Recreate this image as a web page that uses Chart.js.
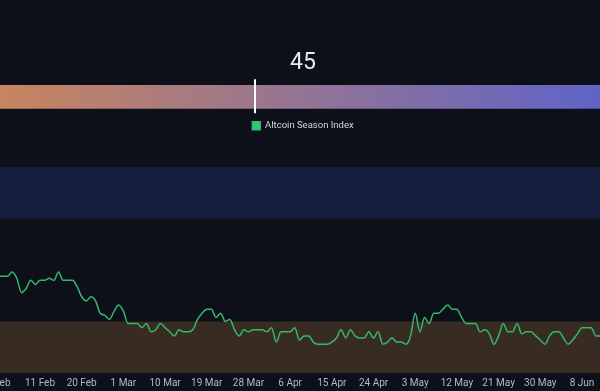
<!DOCTYPE html>
<html>
<head>
<meta charset="utf-8">
<script src="https://cdn.jsdelivr.net/npm/chart.js@4.4.1/dist/chart.umd.min.js"></script>
<style>
  html, body { margin: 0; padding: 0; background: #0d1019; overflow: hidden; }
  body { width: 600px; height: 391px; position: relative; }
  /* the chart is wider than the window, like the cropped original */
  .wrap { position: absolute; left: -177px; top: 0; width: 960px; }
  canvas { display: block; }
</style>
</head>
<body>
<div class="wrap">
  <canvas id="gauge" width="960" height="115"></canvas>
  <canvas id="chart" width="960" height="276"></canvas>
</div>
<script>
const indexValue = 45;
const seriesName = "Altcoin Season Index";
const firstDate = [2025, 1, 2]; // 2 Feb 2025 = day 0
const tickStep = 9; // days between x labels
const months = ["Jan", "Feb", "Mar", "Apr", "May", "Jun", "Jul", "Aug", "Sep", "Oct", "Nov", "Dec"];

// one value per day from 2 Feb
const values = [
  47, 47, 47, 49, 46, 39, 41, 45, 43, 45,
  45, 46, 45, 49, 45, 45, 45, 42, 37, 35,
  37, 35, 29, 28, 26, 30, 33, 30, 24, 24,
  24, 22, 24, 20, 21, 24, 22, 20, 18, 21,
  20, 20, 21, 26, 29, 31, 31, 27, 29, 25,
  26, 21, 18, 21, 20, 21, 21, 21, 20, 22,
  15, 20, 20, 20, 22, 16, 18, 18, 15, 14,
  14, 14, 15, 17, 21, 17, 21, 18, 17, 17,
  20, 17, 20, 14, 15, 17, 15, 15, 14, 18,
  29, 20, 27, 24, 29, 29, 31, 33, 31, 31,
  27, 24, 24, 24, 20, 21, 19, 14, 18, 24,
  20, 20, 24, 19, 20, 20, 18, 16, 14, 18,
  20, 20, 17, 14, 16, 19, 22, 22, 22, 18,
  18, 18
];

const zoneFrom = [0, 75];
const zoneTo = [25, 100];
const zoneColors = ["#382b22", "#161e3e"];

const font = "Roboto, sans-serif";

function dayLabel(v) {
  if (v < 0 || v >= values.length) return "";
  const d = new Date(firstDate[0], firstDate[1], firstDate[2] + v);
  return d.getDate() + " " + months[d.getMonth()];
}

// gauge
const marker = {
  id: "marker",
  afterDatasetsDraw(chart) {
    const ctx = chart.ctx;
    const bar = chart.getDatasetMeta(0).data[0];
    const x = Math.round(chart.scales.x.getPixelForValue(indexValue));
    ctx.save();
    ctx.strokeStyle = "#ffffff";
    ctx.lineWidth = 2;
    ctx.beginPath();
    ctx.moveTo(x, bar.y - bar.height / 2 - 6);
    ctx.lineTo(x, bar.y + bar.height / 2 + 5);
    ctx.stroke();
    ctx.restore();
  }
};

new Chart(document.getElementById("gauge"), {
  type: "bar",
  data: {
    labels: [""],
    datasets: [{
      data: [[0, 100]],
      borderWidth: 0,
      barThickness: 23,
      backgroundColor: function (c) {
        const area = c.chart.chartArea;
        if (!area) return "#999";
        const g = c.chart.ctx.createLinearGradient(area.left, 0, area.right, 0);
        g.addColorStop(0, "#e78f40");
        g.addColorStop(1, "#4059e8");
        return g;
      }
    }]
  },
  options: {
    indexAxis: "y",
    responsive: false,
    animation: false,
    layout: { padding: 0 },
    scales: {
      x: { min: 0, max: 100, display: false },
      y: { display: false }
    },
    plugins: {
      legend: { display: false },
      tooltip: { enabled: false },
      title: {
        display: true,
        text: String(indexValue),
        color: "#e6e9ef",
        font: { size: 23, family: font, weight: "normal" },
        padding: { top: 49, bottom: 2 }
      }
    }
  },
  plugins: [marker]
});

// line chart
const bands = {
  id: "bands",
  beforeDatasetsDraw(chart) {
    const { ctx, chartArea, scales: { y } } = chart;
    ctx.save();
    zoneFrom.forEach(function (from, i) {
      const top = y.getPixelForValue(zoneTo[i]);
      const bottom = y.getPixelForValue(from);
      ctx.fillStyle = zoneColors[i];
      ctx.fillRect(chartArea.left, top, chartArea.width, bottom - top);
    });
    ctx.restore();
  }
};

// room between legend and the plot
const legendGap = {
  id: "legendGap",
  beforeInit(chart) {
    const fit = chart.legend.fit;
    chart.legend.fit = function () {
      fit.bind(chart.legend)();
      this.height = 52;
    };
  }
};

new Chart(document.getElementById("chart"), {
  type: "line",
  data: {
    datasets: [{
      label: seriesName,
      data: values.map((v, i) => ({ x: i, y: v })),
      borderColor: "#34b86e",
      backgroundColor: "#2ecc71",
      borderWidth: 1.5,
      pointRadius: 0,
      cubicInterpolationMode: "monotone"
    }]
  },
  options: {
    responsive: false,
    animation: false,
    layout: { padding: 0 },
    scales: {
      x: {
        type: "linear",
        min: -37.84,
        max: 169.39,
        afterFit: function (scale) { scale.height = 18; },
        grid: { display: false, drawTicks: false },
        border: { display: false },
        ticks: {
          stepSize: tickStep,
          includeBounds: false,
          autoSkip: false,
          maxRotation: 0,
          padding: 4,
          color: "#b4b9c3",
          font: { size: 10, family: font },
          callback: dayLabel
        }
      },
      y: { min: 0, max: 100, display: false }
    },
    plugins: {
      tooltip: { enabled: false },
      legend: {
        position: "top",
        labels: {
          boxWidth: 8,
          boxHeight: 8,
          padding: 6,
          color: "#d3d6dd",
          font: { size: 9.5, family: font }
        }
      }
    }
  },
  plugins: [bands, legendGap]
});
</script>
</body>
</html>
